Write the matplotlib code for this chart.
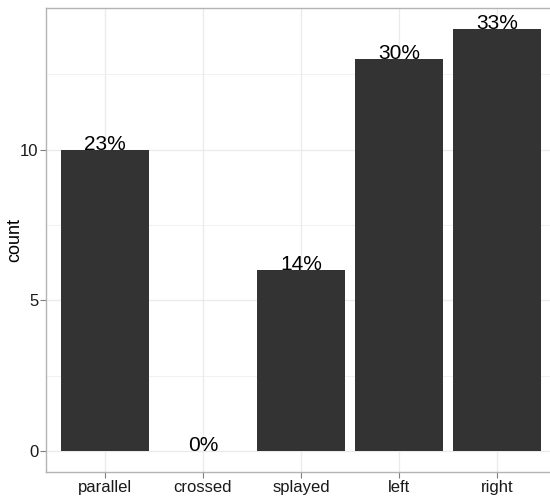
import matplotlib
matplotlib.use("Agg")
import matplotlib.pyplot as plt

categories = ["parallel", "crossed", "splayed", "left", "right"]
counts = [10, 0, 6, 13, 14]
labels = ["23%", "0%", "14%", "30%", "33%"]

plt.rcParams['font.family'] = ['Liberation Sans', 'DejaVu Sans']

fig = plt.figure(figsize=(5.5, 4.97), dpi=100)
ax = fig.add_axes([46/550, 1-472/497, (556-46)/550, (472-8)/497])

x = list(range(1, len(categories)+1))
ax.bar(x, counts, width=0.9, color="#333333", zorder=3)
for xi, c, l in zip(x, counts, labels):
    ax.text(xi, c, l, ha='center', va='baseline', fontsize=15, color='black', zorder=4)

ax.set_xlim(0.4, 5.6)
ax.set_ylim(-0.7, 14.7)
ax.set_xticks(x)
ax.set_xticklabels(categories)
ax.set_yticks([0, 5, 10])
ax.set_yticks([2.5, 7.5, 12.5], minor=True)
ax.tick_params(axis='both', which='major', length=4, color='#7f7f7f', labelsize=12,
               labelcolor='#1a1a1a', pad=1.5)
ax.tick_params(axis='y', which='minor', length=0)
ax.grid(True, which='major', color='#ebebeb', linewidth=1.0, zorder=0)
ax.grid(True, which='minor', axis='y', color='#ebebeb', linewidth=0.5, zorder=0)
ax.set_axisbelow(True)
for s in ax.spines.values():
    s.set_color('#b3b3b3')
    s.set_linewidth(1.0)
ax.set_ylabel("count", fontsize=13, color='black')
ax.yaxis.set_label_coords(-0.045, 0.5)

fig.savefig("out.png", dpi=100)
